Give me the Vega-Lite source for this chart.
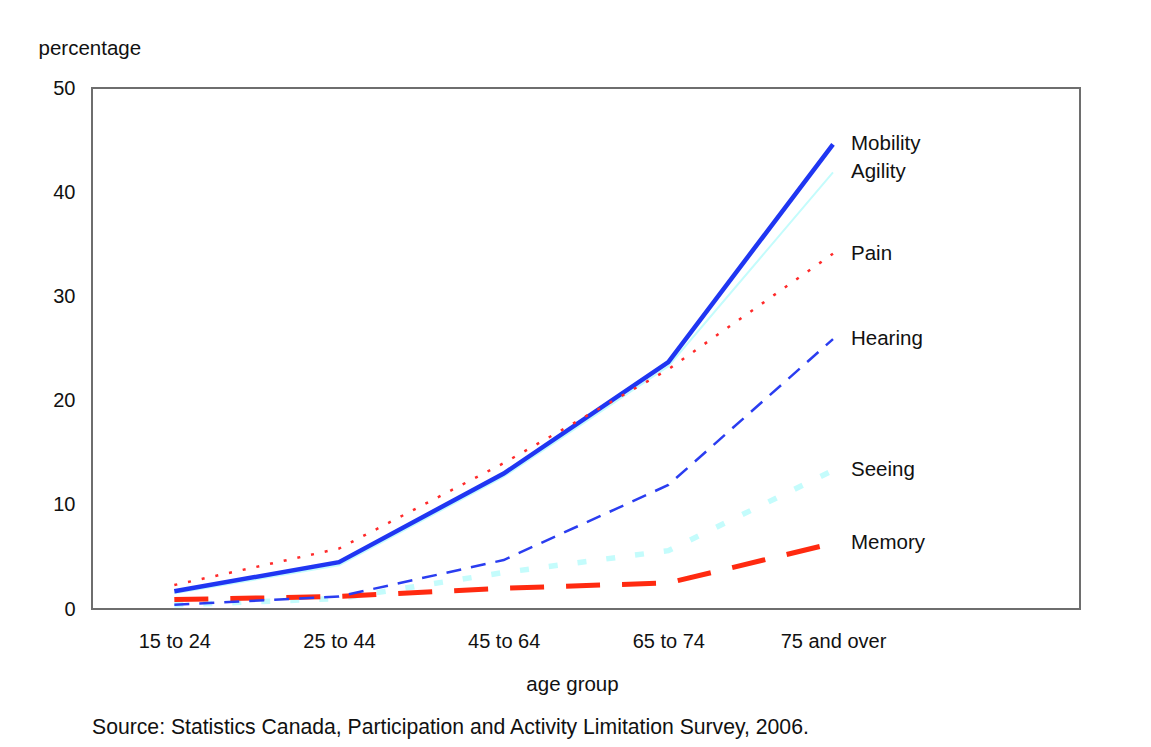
{
  "$schema": "https://vega.github.io/schema/vega-lite/v6.json",
  "autosize": {"type": "none"},
  "width": 988,
  "height": 521,
  "padding": {"left": 92, "top": 88, "right": 71, "bottom": 138},
  "background": "white",
  "config": {
    "font": "Liberation Sans",
    "view": {"stroke": "#6e6e6e", "strokeWidth": 2},
    "axis": {"grid": false, "domain": false, "ticks": false, "tickSize": 0, "labelFont": "Liberation Sans", "titleFont": "Liberation Sans", "labelColor": "#111", "titleColor": "#111", "labelFontSize": 20, "titleFontSize": 20.5, "titleFontWeight": "normal"}
  },
  "title": {"text": "Source: Statistics Canada, Participation and Activity Limitation Survey, 2006.", "orient": "bottom", "anchor": "start", "frame": "group", "fontSize": 21.2, "fontWeight": "normal", "color": "#111", "font": "Liberation Sans", "offset": 22},
  "data": {"values": [
    {"age": "15 to 24", "series": "Mobility", "value": 1.7},
    {"age": "25 to 44", "series": "Mobility", "value": 4.5},
    {"age": "45 to 64", "series": "Mobility", "value": 13.0},
    {"age": "65 to 74", "series": "Mobility", "value": 23.7},
    {"age": "75 and over", "series": "Mobility", "value": 44.6},
    {"age": "15 to 24", "series": "Agility", "value": 1.5},
    {"age": "25 to 44", "series": "Agility", "value": 4.2},
    {"age": "45 to 64", "series": "Agility", "value": 12.7},
    {"age": "65 to 74", "series": "Agility", "value": 23.3},
    {"age": "75 and over", "series": "Agility", "value": 41.9},
    {"age": "15 to 24", "series": "Pain", "value": 2.3},
    {"age": "25 to 44", "series": "Pain", "value": 5.8},
    {"age": "45 to 64", "series": "Pain", "value": 14.0},
    {"age": "65 to 74", "series": "Pain", "value": 23.0},
    {"age": "75 and over", "series": "Pain", "value": 34.1},
    {"age": "15 to 24", "series": "Hearing", "value": 0.4},
    {"age": "25 to 44", "series": "Hearing", "value": 1.2},
    {"age": "45 to 64", "series": "Hearing", "value": 4.7},
    {"age": "65 to 74", "series": "Hearing", "value": 11.9},
    {"age": "75 and over", "series": "Hearing", "value": 25.9},
    {"age": "15 to 24", "series": "Seeing", "value": 0.4},
    {"age": "25 to 44", "series": "Seeing", "value": 1.0},
    {"age": "45 to 64", "series": "Seeing", "value": 3.5},
    {"age": "65 to 74", "series": "Seeing", "value": 5.6},
    {"age": "75 and over", "series": "Seeing", "value": 13.3},
    {"age": "15 to 24", "series": "Memory", "value": 0.9},
    {"age": "25 to 44", "series": "Memory", "value": 1.2},
    {"age": "45 to 64", "series": "Memory", "value": 2.0},
    {"age": "65 to 74", "series": "Memory", "value": 2.5},
    {"age": "75 and over", "series": "Memory", "value": 6.3}
  ]},
  "encoding": {
    "x": {"field": "age", "type": "ordinal", "sort": null,
      "scale": {"type": "point", "padding": 1, "align": 0.25},
      "axis": {"title": "age group", "labelAngle": 0, "labelPadding": 22, "titlePadding": 23, "titleX": 480, "titleAlign": "center"}},
    "y": {"field": "value", "type": "quantitative",
      "scale": {"domain": [0, 50], "nice": false, "zero": true},
      "axis": {"title": "percentage", "values": [0, 10, 20, 30, 40, 50], "labelPadding": 17, "titleAngle": 0, "titleAlign": "left", "titleBaseline": "middle", "titleX": -54, "titleY": -40}}
  },
  "layer": [
    {
      "transform": [{"filter": "datum.series == 'Agility'"}],
      "mark": {"type": "line", "color": "#c4fcfc", "strokeWidth": 2},
      "encoding": {}
    },
    {
      "transform": [{"filter": "datum.series == 'Seeing'"}],
      "mark": {"type": "line", "color": "#c4fcfc", "strokeWidth": 5.5, "strokeDash": [9, 20]},
      "encoding": {}
    },
    {
      "transform": [{"filter": "datum.series == 'Memory'"}],
      "mark": {"type": "line", "color": "#ff2a10", "strokeWidth": 5, "strokeDash": [34, 22]},
      "encoding": {}
    },
    {
      "transform": [{"filter": "datum.series == 'Hearing'"}],
      "mark": {"type": "line", "color": "#2a3df0", "strokeWidth": 2.5, "strokeDash": [15, 10]},
      "encoding": {}
    },
    {
      "transform": [{"filter": "datum.series == 'Mobility'"}],
      "mark": {"type": "line", "color": "#1f36f2", "strokeWidth": 4.5},
      "encoding": {}
    },
    {
      "transform": [{"filter": "datum.series == 'Pain'"}],
      "mark": {"type": "line", "color": "#ff2a2a", "strokeWidth": 2.5, "strokeDash": [3, 11]},
      "encoding": {}
    },
    {
      "transform": [{"filter": "datum.age == '75 and over'"}],
      "mark": {"type": "text", "align": "left", "baseline": "middle", "dx": 18, "fontSize": 20.5, "font": "Liberation Sans", "color": "#111"},
      "encoding": {"text": {"field": "series"}}
    }
  ]
}
